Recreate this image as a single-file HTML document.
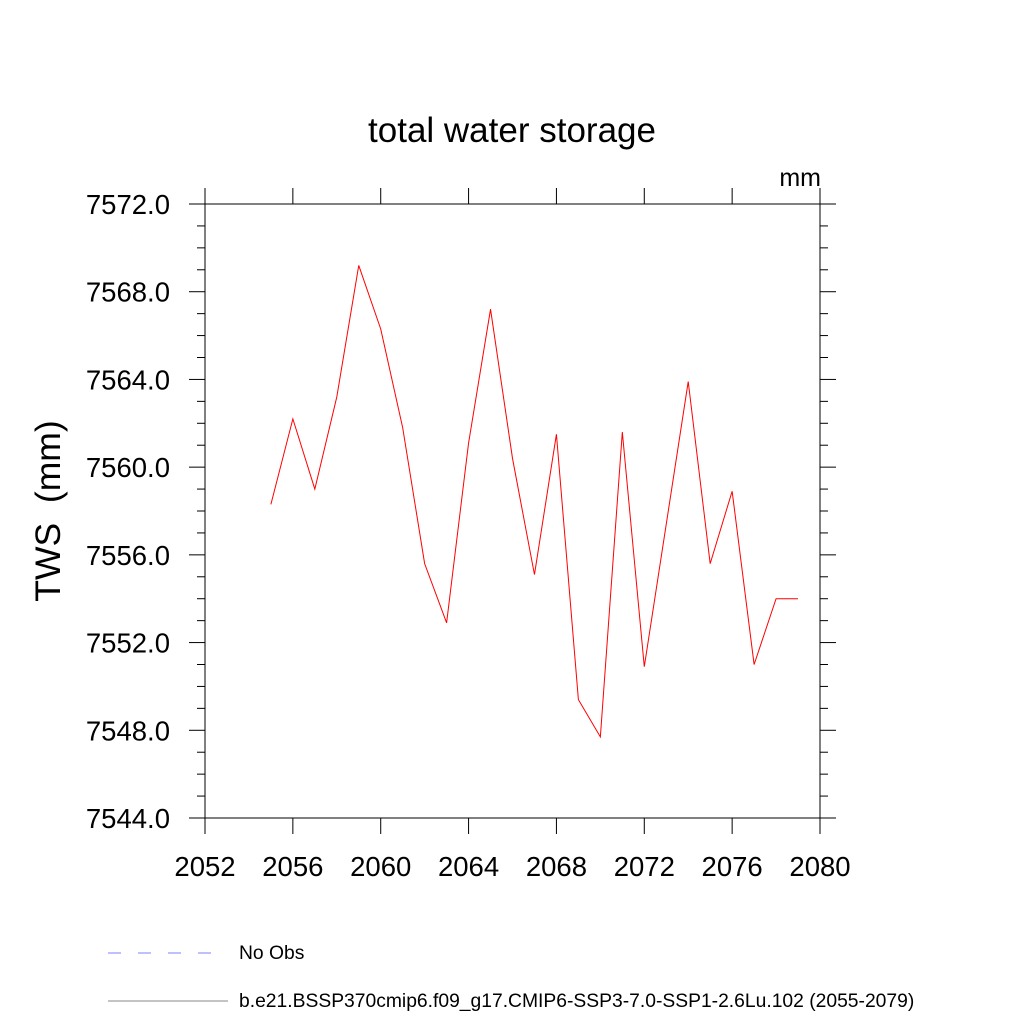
<!DOCTYPE html>
<html><head><meta charset="utf-8"><style>
html,body{margin:0;padding:0;background:#fff;}
svg text{font-family:"Liberation Sans",Arial,sans-serif;}
</style></head><body>
<svg id="chart" width="1024" height="1024" viewBox="0 0 1024 1024" xmlns="http://www.w3.org/2000/svg">
<text x="512" y="142" font-size="35" text-anchor="middle">total water storage</text>
<text x="821" y="186" font-size="25" text-anchor="end">mm</text>
<text transform="translate(60,511) rotate(-90)" font-size="35.5" text-anchor="middle" xml:space="preserve">TWS  (mm)</text>
<g id="axes"></g>
<polyline id="series" fill="none" stroke="#ff0000" stroke-width="1"></polyline>
<g>
<line x1="108" y1="953" x2="228" y2="953" stroke="#8080ff" stroke-width="1" stroke-dasharray="13,17"/>
<text x="239" y="959" font-size="19.3">No Obs</text>
<line x1="108" y1="1001" x2="228" y2="1001" stroke="#888" stroke-width="1"/>
<text x="239" y="1007" font-size="19.3">b.e21.BSSP370cmip6.f09_g17.CMIP6-SSP3-7.0-SSP1-2.6Lu.102 (2055-2079)</text>
</g>
</svg>
<script>
const years=[2055,2056,2057,2058,2059,2060,2061,2062,2063,2064,2065,2066,2067,2068,2069,2070,2071,2072,2073,2074,2075,2076,2077,2078,2079];
const tws=[7558.3,7562.2,7559.0,7563.2,7569.2,7566.3,7561.8,7555.6,7552.9,7561.1,7567.2,7560.4,7555.1,7561.5,7549.4,7547.7,7561.6,7550.9,7557.4,7563.9,7555.6,7558.9,7551.0,7554.0,7554.0];
const xTicks=[2052,2056,2060,2064,2068,2072,2076,2080];
const yTicks=[7544,7548,7552,7556,7560,7564,7568,7572];
const X0=205,X1=820,Y0=818,Y1=204;
const xMin=2052,xMax=2080,yMin=7544,yMax=7572;
function sx(v){return X0+(v-xMin)/(xMax-xMin)*(X1-X0);}
function sy(v){return Y0-(v-yMin)/(yMax-yMin)*(Y0-Y1);}
const NS="http://www.w3.org/2000/svg";
const g=document.getElementById('axes');
function ln(x1,y1,x2,y2,name,w){const l=document.createElementNS(NS,'line');l.setAttribute('x1',x1);l.setAttribute('y1',y1);l.setAttribute('x2',x2);l.setAttribute('y2',y2);l.setAttribute('stroke','#000');l.setAttribute('stroke-width',w||1);


g.appendChild(l);}
function tx(x,y,s,anchor,name){const t=document.createElementNS(NS,'text');t.setAttribute('x',x);t.setAttribute('y',y);t.setAttribute('font-size','27.5');t.setAttribute('text-anchor',anchor);t.textContent=s;


g.appendChild(t);}
ln(189,Y1,836,Y1,'top-axis-line');ln(189,Y0,836,Y0,'bottom-axis-line');
ln(X0,189,X0,834,'left-axis-line');ln(X1,189,X1,834,'right-axis-line');
xTicks.forEach(v=>{const x=sx(v);ln(x,Y0,x,Y0+16,'x-tick');ln(x,Y1,x,Y1-16,'x-tick-top');tx(x,Y0+58,String(v),'middle','x-tick-label');});
for(let v=yMin;v<=yMax;v+=1){const y=sy(v);const major=(v-yMin)%4===0;const L=major?16:8;ln(X0-L,y,X0,y,major?'y-tick':'y-minor-tick');ln(X1,y,X1+L,y,major?'y-tick-right':'y-minor-tick-right');}
yTicks.forEach(v=>{tx(170,sy(v)+10,v.toFixed(1),'end','y-tick-label');});
document.getElementById('series').setAttribute('points',years.map((y,i)=>sx(y)+','+sy(tws[i])).join(' '));
</script>
</body></html>
